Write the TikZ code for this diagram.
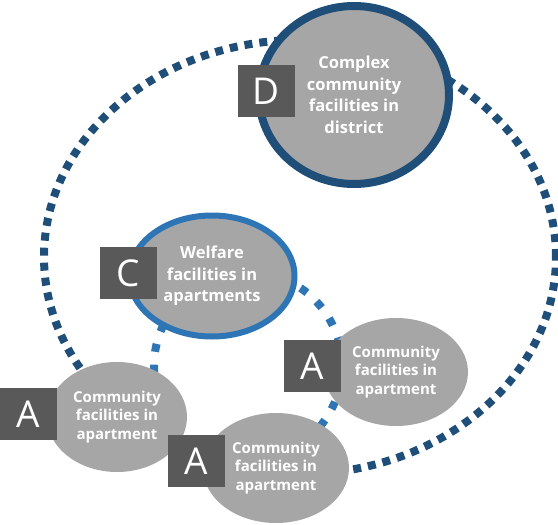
\documentclass[tikz,border=0pt]{standalone}
\usepackage{fontspec}
\setmainfont{Open Sans}
\usetikzlibrary{shapes.geometric,positioning}
\definecolor{ringdark}{HTML}{1F4E79}
\definecolor{ringmid}{HTML}{2E75B6}
\definecolor{facgray}{HTML}{A6A6A6}
\definecolor{boxgray}{HTML}{595959}

\begin{document}
\begin{tikzpicture}[x=1pt,y=-1pt,
    facility/.style={ellipse,fill=facgray,inner sep=0pt,text=white,align=center,font=\bfseries\fontsize{15}{18.5}\selectfont},
    bigfacility/.style={facility,font=\bfseries\fontsize{16.5}{21.5}\selectfont},
    letterbox/.style={rectangle,fill=boxgray,text=white,minimum width=57pt,minimum height=52pt,inner sep=0pt,font=\fontsize{37}{37}\selectfont},
    ring/.style={line width=8pt,dash pattern=on 8pt off 7pt}]
  \useasboundingbox (0,0) rectangle (558,525);

  % dotted rings
  \draw[ring,ringdark] (300,257) ellipse [x radius=256pt, y radius=217pt];
  \draw[ring,ringmid,dash pattern=on 8pt off 13pt] (248,366) circle [radius=94pt];

  % facilities
  \node[bigfacility,draw=ringdark,line width=8pt,minimum width=190pt,minimum height=178pt] (district) at (354,95) {Complex\\community\\facilities in\\district};
  \node[bigfacility,draw=ringmid,line width=6pt,minimum width=165pt,minimum height=121pt] (welfare) at (212,276) {Welfare\\facilities in\\apartments};
  \node[facility,minimum width=140pt,minimum height=110pt] (aptone) at (117,417) {Community\\facilities in\\apartment};
  \node[facility,minimum width=146pt,minimum height=110pt] (apttwo) at (276,468) {Community\\facilities in\\apartment};
  \node[facility,minimum width=144pt,minimum height=108pt] (aptthree) at (396,372) {Community\\facilities in\\apartment};

  % letter boxes
  \node[letterbox] (dbox) at (266,91) {D};
  \node[letterbox] (cbox) at (128,273) {C};
  \node[letterbox] (aonebox) at (28,414) {A};
  \node[letterbox] (atwobox) at (196,461) {A};
  \node[letterbox] (athreebox) at (312,366) {A};
\end{tikzpicture}
\end{document}
